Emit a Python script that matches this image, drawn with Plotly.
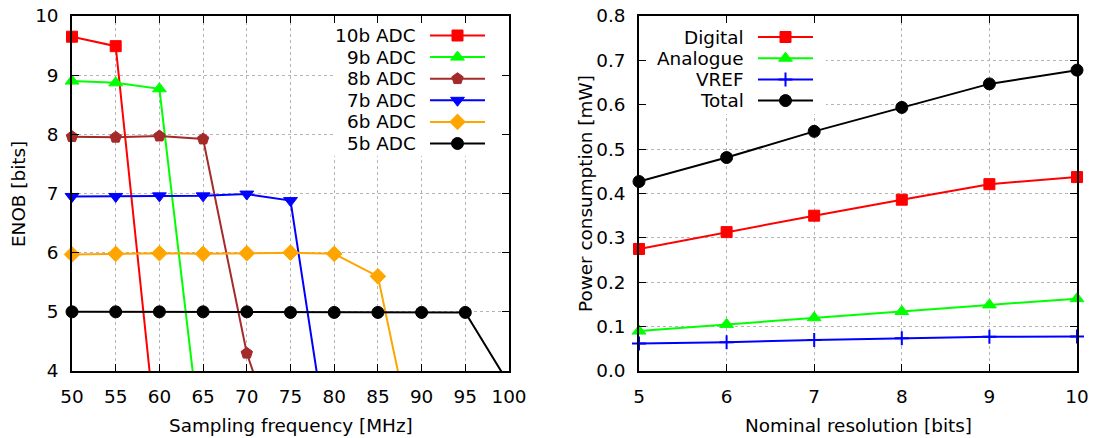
import plotly.graph_objects as go

W, H = 1094, 438
FONT = "DejaVu Sans"
FS = 18.4

# ---------------- Left chart data: ENOB vs sampling frequency ----------------
freq = [50, 55, 60, 65, 70, 75, 80, 85, 90, 95, 100]
enob_10b = [9.65, 9.49, 2.4]
enob_9b = [8.90, 8.87, 8.77, 2.5]
enob_8b = [7.96, 7.95, 7.97, 7.92, 4.30, 2.15]
enob_7b = [6.95, 6.95, 6.96, 6.96, 6.99, 6.88, 2.05]
enob_6b = [5.97, 5.98, 5.99, 5.98, 5.99, 6.00, 5.98, 5.60, 2.1]
enob_5b = [5.00, 5.00, 5.00, 5.00, 5.00, 4.99, 4.99, 4.99, 4.99, 4.99, 3.78]
adc_names = ["10b ADC", "9b ADC", "8b ADC", "7b ADC", "6b ADC", "5b ADC"]
adc_series = [enob_10b, enob_9b, enob_8b, enob_7b, enob_6b, enob_5b]
adc_colors = ["#ff0000", "#00ff00", "#a52a2a", "#0000ff", "#ffa500", "#000000"]
adc_symbols = ["square", "triangle-up", "pentagon", "triangle-down", "diamond", "circle"]
adc_sizes = [11, 12, 12, 12, 12, 12]
ENOB_RANGE = [4, 10]
FREQ_RANGE = [50, 100]

# ---------------- Right chart data: power vs resolution ----------------
resolution = [5, 6, 7, 8, 9, 10]
p_digital = [0.275, 0.313, 0.350, 0.386, 0.421, 0.437]
p_analogue = [0.090, 0.105, 0.120, 0.134, 0.149, 0.163]
p_vref = [0.062, 0.065, 0.070, 0.074, 0.077, 0.078]
p_total = [0.427, 0.481, 0.540, 0.594, 0.647, 0.678]
pw_names = ["Digital", "Analogue", "VREF", "Total"]
pw_series = [p_digital, p_analogue, p_vref, p_total]
pw_colors = ["#ff0000", "#00ff00", "#0000ff", "#000000"]
pw_symbols = ["square", "triangle-up", "cross-thin", "circle"]
pw_sizes = [11, 12, 10, 12]
RES_RANGE = [5, 10]
PW_RANGE = [0, 0.8]

# plot-area pixel geometry
L_X0, L_X1 = 72, 509
R_X0, R_X1 = 639, 1077
Y_TOP, Y_BOT = 16, 371


def px_to_data(px, p0, p1, r):
    return r[0] + (px - p0) / (p1 - p0) * (r[1] - r[0])


fig = go.Figure()

# opaque key boxes (hide grid behind the keys), drawn first so data is above
def key_box(xa, ya, px0, px1, py0, py1, plot_x0, plot_x1, xr, yr):
    bx0 = px_to_data(px0, plot_x0, plot_x1, xr)
    bx1 = px_to_data(px1, plot_x0, plot_x1, xr)
    by0 = px_to_data(py0, Y_BOT, Y_TOP, yr)
    by1 = px_to_data(py1, Y_BOT, Y_TOP, yr)
    fig.add_trace(go.Scatter(x=[bx0, bx1, bx1, bx0, bx0], y=[by0, by0, by1, by1, by0],
                             mode="lines", fill="toself", fillcolor="white",
                             line=dict(width=0, color="white"), xaxis=xa, yaxis=ya,
                             showlegend=False, hoverinfo="skip"))

key_box("x", "y", 333, L_X1, 156, Y_TOP, L_X0, L_X1, FREQ_RANGE, ENOB_RANGE)
key_box("x2", "y2", R_X0, 826, 114, Y_TOP, R_X0, R_X1, RES_RANGE, PW_RANGE)

# Left chart traces
for name, ys, col, sym, sz in zip(adc_names, adc_series, adc_colors, adc_symbols, adc_sizes):
    xs = freq[:len(ys)]
    fig.add_trace(go.Scatter(x=xs, y=ys, mode="lines", line=dict(color=col, width=2),
                             xaxis="x", yaxis="y", showlegend=False, hoverinfo="skip"))
    mx = [x for x, y in zip(xs, ys) if ENOB_RANGE[0] <= y <= ENOB_RANGE[1]]
    my = [y for y in ys if ENOB_RANGE[0] <= y <= ENOB_RANGE[1]]
    fig.add_trace(go.Scatter(x=mx, y=my, mode="markers", name=name,
                             marker=dict(color=col, symbol=sym, size=sz, opacity=1,
                                         line=dict(color=col, width=1)),
                             cliponaxis=False, xaxis="x", yaxis="y", showlegend=False))

# Right chart traces
for name, ys, col, sym, sz in zip(pw_names, pw_series, pw_colors, pw_symbols, pw_sizes):
    fig.add_trace(go.Scatter(x=resolution, y=ys, mode="lines+markers", name=name,
                             line=dict(color=col, width=2),
                             marker=dict(color=col, symbol=sym, size=sz, opacity=1,
                                         line=dict(color=col, width=2 if sym == "cross-thin" else 1)),
                             cliponaxis=False, xaxis="x2", yaxis="y2", showlegend=False))

# ---------------- Custom gnuplot-style keys (text, then sample) ----------------
annotations = []
def add_key(names, colors, symbols, sizes, text_right, line_x0, line_x1, row0, step):
    for i, (n, c, s, z) in enumerate(zip(names, colors, symbols, sizes)):
        yy = row0 + i * step
        fig.add_trace(go.Scatter(x=[line_x0, line_x1], y=[yy, yy], mode="lines",
                                 line=dict(color=c, width=2),
                                 xaxis="x3", yaxis="y3", showlegend=False, hoverinfo="skip"))
        fig.add_trace(go.Scatter(x=[(line_x0 + line_x1) / 2], y=[yy], mode="markers",
                                 marker=dict(color=c, symbol=s, size=z, opacity=1,
                                             line=dict(color=c, width=2 if s == "cross-thin" else 1)),
                                 xaxis="x3", yaxis="y3", showlegend=False, hoverinfo="skip"))
        annotations.append(dict(x=text_right, y=yy, xref="x3", yref="y3", text=n, showarrow=False,
                                xanchor="right", yanchor="middle",
                                font=dict(family=FONT, size=FS, color="black")))

add_key(adc_names, adc_colors, adc_symbols, adc_sizes, 418, 430, 485, 35.5, 21.6)
add_key(pw_names, pw_colors, pw_symbols, pw_sizes, 746, 758, 813, 37, 21.2)

# Axis titles
annotations += [
    dict(x=(L_X0 + L_X1) / 2, y=425, xref="x3", yref="y3", text="Sampling frequency [MHz]", showarrow=False,
         xanchor="center", yanchor="middle", font=dict(family=FONT, size=FS, color="black")),
    dict(x=(R_X0 + R_X1) / 2, y=425, xref="x3", yref="y3", text="Nominal resolution [bits]", showarrow=False,
         xanchor="center", yanchor="middle", font=dict(family=FONT, size=FS, color="black")),
    dict(x=18, y=194, xref="x3", yref="y3", text="ENOB [bits]", showarrow=False, textangle=-90,
         xanchor="center", yanchor="middle", font=dict(family=FONT, size=FS, color="black")),
    dict(x=585, y=194, xref="x3", yref="y3", text="Power consumption [mW]", showarrow=False, textangle=-90,
         xanchor="center", yanchor="middle", font=dict(family=FONT, size=FS, color="black")),
]

common_axis = dict(showline=True, linecolor="black", linewidth=1.5, mirror="ticks",
                   ticks="inside", ticklen=7, tickwidth=1, tickcolor="black",
                   showgrid=True, gridcolor="#b4b4b4", griddash="dot", gridwidth=1,
                   zeroline=False, tickfont=dict(family=FONT, size=FS, color="black"),
                   fixedrange=True, automargin=False)

YD = [1 - Y_BOT / H, 1 - Y_TOP / H]
fig.update_layout(
    width=W, height=H, margin=dict(l=0, r=0, t=0, b=0, autoexpand=False),
    paper_bgcolor="white", plot_bgcolor="rgba(0,0,0,0)",
    font=dict(family=FONT, size=FS, color="black"),
    xaxis=dict(domain=[L_X0 / W, L_X1 / W], range=FREQ_RANGE, tickmode="linear", tick0=50, dtick=5,
               ticklabelstandoff=8, anchor="y", **common_axis),
    yaxis=dict(domain=YD, range=ENOB_RANGE, tickmode="linear", tick0=4, dtick=1,
               ticklabelstandoff=8, anchor="x", **common_axis),
    xaxis2=dict(domain=[R_X0 / W, R_X1 / W], range=RES_RANGE, tickmode="linear", tick0=5, dtick=1,
                ticklabelstandoff=8, anchor="y2", **common_axis),
    yaxis2=dict(domain=YD, range=PW_RANGE, tickmode="linear", tick0=0, dtick=0.1, tickformat=".1f",
                ticklabelstandoff=8, anchor="x2", **common_axis),
    xaxis3=dict(domain=[0, 1], range=[0, W], visible=False, fixedrange=True, anchor="y3", automargin=False),
    yaxis3=dict(domain=[0, 1], range=[H, 0], visible=False, fixedrange=True, anchor="x3", automargin=False),
    annotations=annotations,
    showlegend=False,
)

fig.write_html("out.html")
